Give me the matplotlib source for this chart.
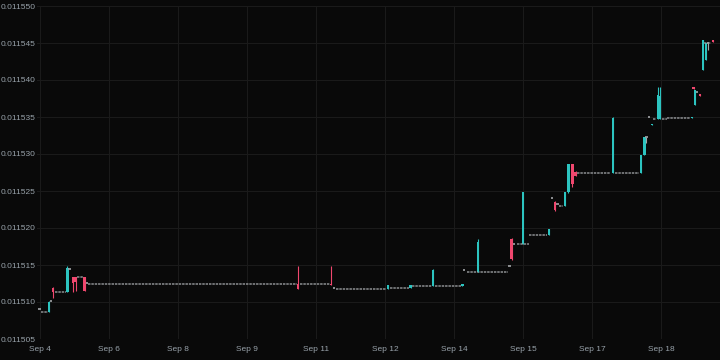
import numpy as np
import matplotlib.pyplot as plt

# x = hours after Sep 4 00:00 (hourly candles)
cx = [4.7, 6.8, 14.3, 17.2, 18.5, 23.2, 134.6, 151.8, 181.6, 193.3, 205.0, 220.4,
      228.5, 246.1, 252.0, 265.6, 268.6, 273.9, 275.7, 277.8, 279.4, 299.0, 313.6,
      315.4, 319.3, 322.3, 323.5, 340.2, 341.0, 341.9, 344.3, 345.8, 347.6, 351.1]
co = [.0115086, .0115119, .0115113, .0115134, .0115134, .0115134, .0115124, .0115124,
      .0115118, .0115119, .0115122, .0115122, .0115141, .0115185, .0115179, .0115191,
      .0115235, .0115230, .0115248, .0115286, .0115276, .0115274, .0115274, .0115299,
      .0115339, .0115347, .0115347, .0115349, .0115391, .0115366, .0115381, .0115413,
      .0115427, .0115454]
ch = [.0115101, .0115120, .0115148, .0115134, .0115134, .0115134, .0115149, .0115149,
      .0115123, .0115123, .0115144, .0115124, .0115185, .0115186, .0115249, .0115199,
      .0115236, .0115248, .0115287, .0115287, .0115277, .0115350, .0115299, .0115323,
      .0115341, .0115391, .0115390, .0115350, .0115391, .0115386, .0115381, .0115454,
      .0115450, .0115454]
cl = [.0115086, .0115106, .0115113, .0115114, .0115115, .0115115, .0115117, .0115123,
      .0115118, .0115119, .0115122, .0115122, .0115141, .0115157, .0115179, .0115191,
      .0115223, .0115230, .0115247, .0115256, .0115270, .0115274, .0115274, .0115299,
      .0115339, .0115347, .0115347, .0115349, .0115388, .0115366, .0115378, .0115413,
      .0115427, .0115452]
cc = [.0115100, .0115113, .0115146, .0115126, .0115127, .0115115, .0115117, .0115123,
      .0115123, .0115123, .0115143, .0115124, .0115181, .0115158, .0115248, .0115199,
      .0115224, .0115248, .0115286, .0115259, .0115270, .0115349, .0115299, .0115323,
      .0115341, .0115380, .0115378, .0115350, .0115388, .0115386, .0115378, .0115454,
      .0115450, .0115452]

# single doji candles (x, price, low)
dx = [-0.3, 5.7, 15.4, 24.5, 153.4, 221.2, 245.0, 247.3, 267.1, 270.0, 316.4, 317.9, 342.9, 348.6]
dp = [.0115091, .0115101, .0115145, .0115126, .0115119, .0115143, .0115149, .0115179,
      .0115241, .0115232, .0115323, .0115350, .0115384, .0115450]
dl = [.0115091, .0115101, .0115145, .0115126, .0115119, .0115143, .0115149, .0115179,
      .0115241, .0115232, .0115315, .0115350, .0115384, .0115441]

# runs of flat doji candles (start, end, price)
fs = [0.5, 7.8, 19.3, 25.0, 135.7, 154.4, 182.6, 194.1, 206.1, 222.8, 248.9, 255.2,
      270.8, 280.2, 300.0, 319.8, 324.6, 327.2, 346.6]
fe = [4.2, 13.6, 22.4, 134.1, 151.3, 180.5, 192.5, 204.5, 219.6, 244.2, 255.2, 264.5,
      272.9, 297.4, 312.5, 321.4, 327.2, 339.2, 350.3]
fp = [.0115086, .0115113, .0115134, .0115124, .0115124, .0115118, .0115119, .0115122,
      .0115122, .0115141, .0115179, .0115191, .0115230, .0115274, .0115274, .0115347,
      .0115347, .0115349, .0115450]

tick_x = [0, 36, 72, 108, 144, 180, 216, 252, 288, 324]
tick_lab = ['Sep 4', 'Sep 6', 'Sep 8', 'Sep 9', 'Sep 11', 'Sep 12', 'Sep 14', 'Sep 15', 'Sep 17', 'Sep 18']

up = '#2cc4c0'
down = '#f0476e'
grey = '#a3a6a9'
bg = '#090909'

plt.rcParams['font.family'] = ['Liberation Sans', 'DejaVu Sans']

fig = plt.figure(figsize=(7.2, 3.6), dpi=100, facecolor=bg)
ax = fig.add_axes([37 / 720, 21 / 360, 683 / 720, 333 / 360], facecolor=bg)

ax.grid(True, color='#1a1a1a', lw=0.8)
ax.set_axisbelow(True)

# flat stretches
ax.hlines(fp, fs, fe, colors=grey, lw=1.1, linestyles=(0, (1.6, 0.6)), alpha=0.85)

# dojis
ax.hlines(dp, np.array(dx) - 0.6, np.array(dx) + 0.6, colors=grey, lw=1.2)
ax.vlines(dx, dl, dp, colors=grey, lw=0.8)

# candles
o = np.array(co)
c = np.array(cc)
cols = [up if c[i] >= o[i] else down for i in range(len(o))]
ax.vlines(cx, cl, ch, colors=cols, lw=0.8)
ax.bar(cx, c - o, bottom=o, width=1.25, color=cols, linewidth=0)

ax.set_xlim(-1.6, 354.8)
ax.set_ylim(0.011505, 0.011550)
ax.set_yticks(np.arange(0.011505, 0.0115501, 0.000005))
ax.set_yticklabels(['%.6f' % v for v in np.arange(0.011505, 0.0115501, 0.000005)])
ax.set_xticks(tick_x)
ax.set_xticklabels(tick_lab)
ax.tick_params(axis='both', length=0, labelsize=6, colors='#98a2aa')
ax.tick_params(axis='y', pad=1)
ax.tick_params(axis='x', pad=5)
for s in ax.spines.values():
    s.set_visible(False)

fig.savefig('out.png', dpi=100, facecolor=bg)
